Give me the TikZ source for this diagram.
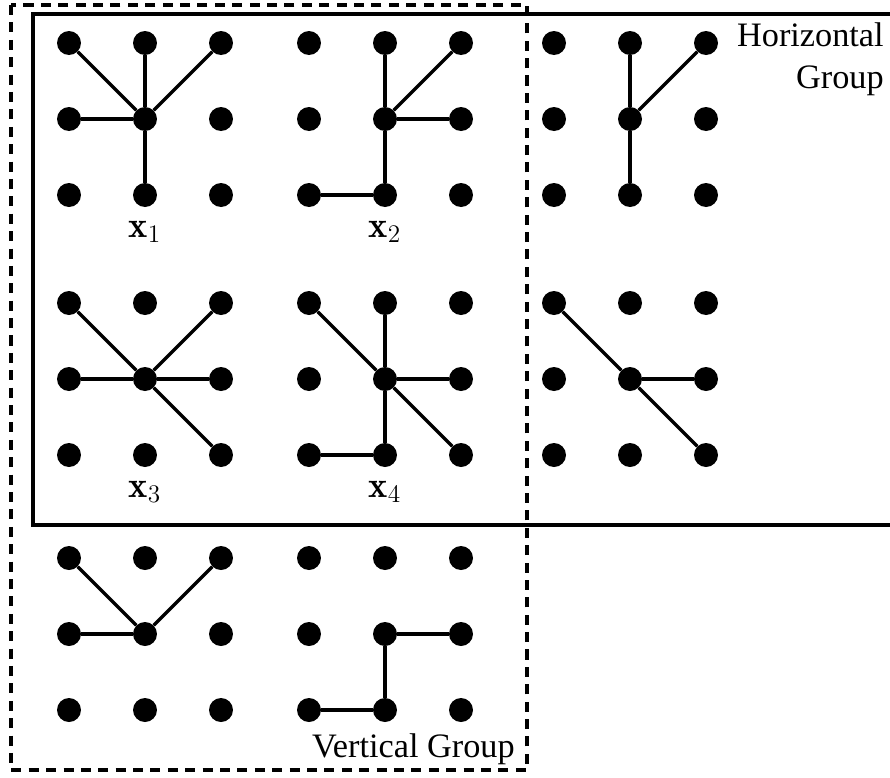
\documentclass[tikz,border=0pt]{standalone}
\usepackage{fontspec}
\newfontfamily\groupfont{Liberation Serif}
\usepackage{tikz}
\tikzstyle{dot} = [circle, fill=black, inner sep=0pt, minimum size=0.48cm]
\tikzstyle{edge} = [line width=2pt]
\tikzstyle{frame} = [line width=1.8pt]
\tikzstyle{grouplabel} = [font=\groupfont\fontsize{19.5}{24}\selectfont, inner sep=0pt]
\tikzstyle{varlabel} = [font=\huge, inner sep=0pt]

\begin{document}
\begin{tikzpicture}[x=0.02cm, y=-0.02cm]
		\useasboundingbox (0,0) rectangle (890,778);

		% group frames
		\draw[frame] (895,14) -- (33,14) -- (33,525) -- (895,525);
		\draw[frame, dash pattern=on 5.7pt off 4.2pt] (11,5) rectangle (527,770);

		% 3x3 dot grids, dots numbered 1..9 row by row
		\foreach \g/\gx/\gy in {11/145/119, 12/385/119, 13/630/119, 21/145/379, 22/385/379, 23/630/379, 31/145/634, 32/385/634}
			\foreach \r in {0,1,2}
				\foreach \c in {0,1,2} {
					\pgfmathtruncatemacro{\n}{3*\r+\c+1}
					\node[dot] (g\g-\n) at ({\gx+76*(\c-1)}, {\gy+76*(\r-1)}) {};
				}

		\foreach \b in {1,2,3,4,8} \draw[edge] (g11-5) -- (g11-\b);
		\foreach \b in {2,3,6,8} \draw[edge] (g12-5) -- (g12-\b);
		\draw[edge] (g12-8) -- (g12-7);
		\foreach \b in {2,3,8} \draw[edge] (g13-5) -- (g13-\b);
		\foreach \b in {1,3,4,6,9} \draw[edge] (g21-5) -- (g21-\b);
		\foreach \b in {1,2,6,8,9} \draw[edge] (g22-5) -- (g22-\b);
		\draw[edge] (g22-8) -- (g22-7);
		\foreach \b in {1,6,9} \draw[edge] (g23-5) -- (g23-\b);
		\foreach \b in {1,3,4} \draw[edge] (g31-5) -- (g31-\b);
		\foreach \b in {6,8} \draw[edge] (g32-5) -- (g32-\b);
		\draw[edge] (g32-8) -- (g32-7);

		\node[varlabel, anchor=base] (x1) at (145,237) {$\mathbf{x}_1$};
		\node[varlabel, anchor=base] (x2) at (385,237) {$\mathbf{x}_2$};
		\node[varlabel, anchor=base] (x3) at (145,497) {$\mathbf{x}_3$};
		\node[varlabel, anchor=base] (x4) at (385,497) {$\mathbf{x}_4$};

		\node[grouplabel, anchor=north east, align=right] (hgroup) at (884,22) {Horizontal\\Group};
		\node[grouplabel, anchor=base east] (vgroup) at (515,757) {Vertical Group};
	\end{tikzpicture}
\end{document}
